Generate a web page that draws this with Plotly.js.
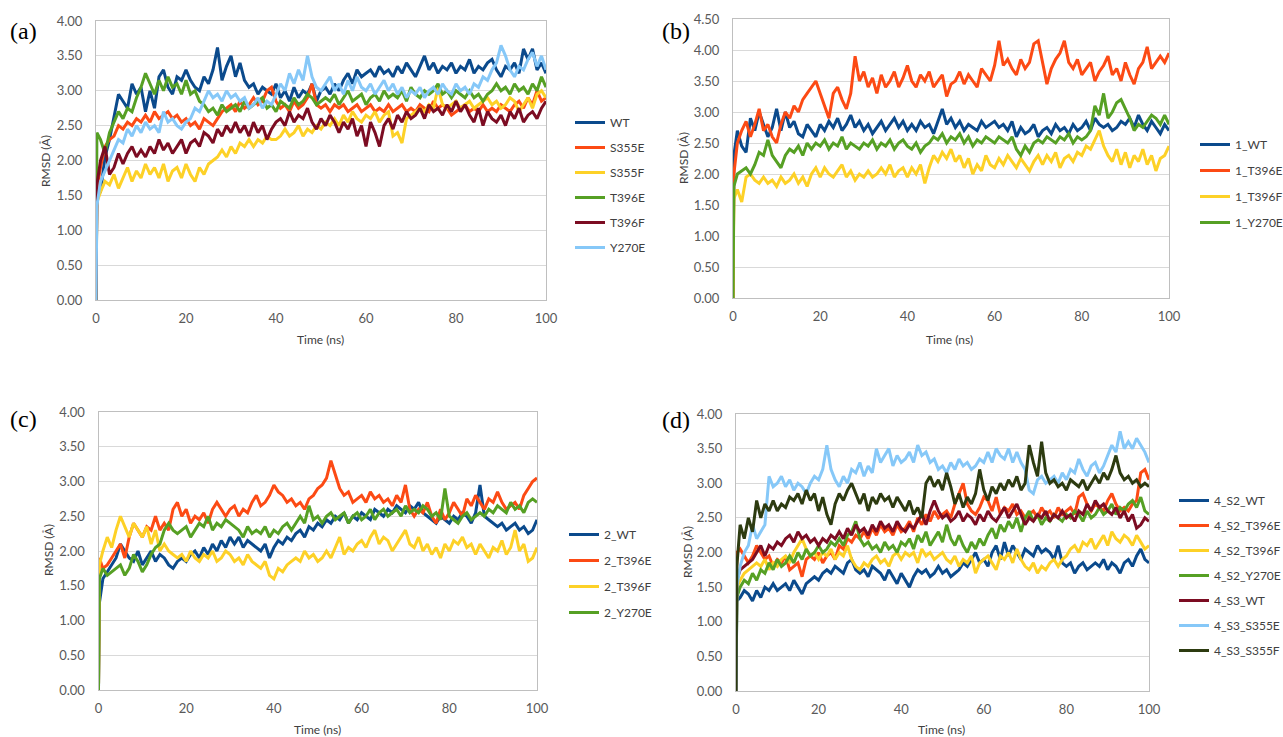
<!DOCTYPE html>
<html>
<head>
<meta charset="utf-8">
<script src="https://cdn.plot.ly/plotly-3.0.1.min.js"></script>
<style>html,body{margin:0;padding:0;background:#fff;}#chart{width:1283px;height:737px;}</style>
</head>
<body>
<div id="chart"></div>
<script>
const time = [0,0.2,1,2,3,4,5,6,7,8,9,10,11,12,13,14,15,16,17,18,19,20,21,22,23,24,25,26,27,28,29,30,31,32,33,34,35,36,37,38,39,40,41,42,43,44,45,46,47,48,49,50,51,52,53,54,55,56,57,58,59,60,61,62,63,64,65,66,67,68,69,70,71,72,73,74,75,76,77,78,79,80,81,82,83,84,85,86,87,88,89,90,91,92,93,94,95,96,97,98,99,100];
const xTicks = [0,20,40,60,80,100];
const yTicks4 = [0,0.5,1,1.5,2,2.5,3,3.5,4];
const yTicks45 = [0,0.5,1,1.5,2,2.5,3,3.5,4,4.5];

// ---- Panel (a)
const a_names = ["WT","S355E","S355F","T396E","T396F","Y270E"];
const a_WT = [0,1.5,
1.55,2.05,2.3,2.6,2.95,2.85,2.75,3.1,2.95,3.05,
2.7,3.0,2.75,3.2,3.3,3.05,2.95,3.2,3.15,3.3,
3.15,3.05,3.0,3.2,3.1,3.3,3.62,3.15,3.35,3.5,
3.2,3.4,3.15,3.05,3.1,2.95,3.05,3.0,2.95,3.1,
2.9,3.0,2.85,3.05,2.9,3.0,2.95,3.1,2.85,3.0,
3.05,2.95,3.1,3.0,3.15,3.25,3.1,3.3,3.2,3.25,
3.3,3.2,3.35,3.25,3.3,3.2,3.35,3.25,3.4,3.3,
3.2,3.35,3.5,3.3,3.4,3.25,3.35,3.3,3.4,3.25,
3.35,3.3,3.45,3.25,3.35,3.3,3.4,3.45,3.3,3.2,
3.35,3.3,3.4,3.25,3.6,3.45,3.6,3.3,3.4,3.25];
const a_S355E = [0,1.6,
1.9,2.2,2.3,2.35,2.5,2.45,2.55,2.5,2.6,2.55,
2.65,2.55,2.7,2.6,2.65,2.7,2.6,2.65,2.55,2.6,
2.5,2.55,2.45,2.6,2.55,2.5,2.6,2.7,2.75,2.8,
2.7,2.85,2.75,2.8,2.9,2.8,2.85,3.0,3.05,2.85,
2.75,2.8,2.7,2.85,2.75,2.8,2.9,3.1,2.8,2.75,
2.8,2.7,2.8,2.75,2.8,2.7,2.75,2.8,2.7,2.75,
2.8,2.7,2.75,2.7,2.8,2.7,2.75,2.8,2.7,2.75,
2.7,2.8,2.75,2.7,2.85,2.75,2.8,2.75,2.65,2.7,
2.75,2.8,2.7,2.75,2.7,2.8,2.7,2.75,2.7,2.8,
2.75,2.7,2.8,2.85,2.75,2.9,2.8,3.0,2.85,2.9];
const a_S355F = [0,1.4,
1.55,1.7,1.65,1.8,1.6,1.75,1.9,1.7,1.85,1.75,
1.95,1.8,1.9,1.75,1.95,1.7,1.85,1.9,1.75,1.95,
1.8,1.7,1.9,1.8,1.95,2.0,2.05,2.15,2.05,2.2,
2.1,2.25,2.2,2.3,2.2,2.3,2.25,2.35,2.3,2.3,
2.35,2.45,2.35,2.4,2.5,2.35,2.45,2.4,2.5,2.45,
2.55,2.5,2.6,2.5,2.65,2.55,2.7,2.6,2.55,2.65,
2.6,2.7,2.55,2.65,2.7,2.35,2.4,2.25,2.6,2.65,
2.7,2.75,2.7,2.8,2.75,3.05,2.8,2.75,2.8,2.85,
2.75,2.8,2.85,2.75,2.8,2.85,2.9,2.8,2.85,2.75,
2.8,2.9,2.85,2.7,2.8,2.9,2.75,2.95,3.0,2.9];
const a_T396E = [0,2.4,
2.3,2.1,2.4,2.55,2.7,2.6,2.75,2.7,2.9,3.05,
3.25,3.1,2.95,3.15,3.0,3.2,3.05,3.1,2.95,3.15,
2.95,3.0,2.85,2.8,2.7,2.75,2.65,2.8,2.7,2.75,
2.8,2.7,2.85,2.75,2.8,2.85,2.9,2.75,2.8,2.7,
2.85,2.8,2.75,2.9,2.8,2.85,2.95,2.9,2.8,2.85,
2.9,2.85,2.95,2.8,2.9,3.0,2.85,2.9,2.95,2.8,
2.9,2.95,2.85,3.0,2.9,2.95,2.9,3.0,2.85,3.05,
2.95,2.9,3.0,2.95,3.0,3.1,2.95,3.0,2.9,3.0,
2.95,2.9,3.0,2.9,2.95,2.85,2.95,3.0,3.1,3.0,
3.05,2.95,3.1,3.0,3.05,2.95,3.1,3.0,3.2,3.05];
const a_T396F = [0,1.65,
2.0,2.2,1.8,1.9,2.1,1.95,2.1,2.2,2.05,2.15,
2.05,2.2,2.1,2.3,2.15,2.25,2.1,2.2,2.3,2.1,
2.25,2.3,2.2,2.4,2.35,2.25,2.45,2.35,2.5,2.4,
2.55,2.4,2.5,2.35,2.55,2.4,2.5,2.3,2.45,2.55,
2.6,2.5,2.7,2.55,2.65,2.6,2.75,2.55,2.45,2.6,
2.5,2.65,2.55,2.4,2.55,2.45,2.6,2.35,2.5,2.2,
2.55,2.4,2.2,2.5,2.6,2.45,2.65,2.55,2.7,2.6,
2.65,2.75,2.6,2.8,2.7,2.75,2.65,2.8,2.7,2.85,
2.7,2.8,2.65,2.55,2.75,2.5,2.7,2.6,2.55,2.65,
2.5,2.7,2.6,2.75,2.55,2.65,2.7,2.6,2.75,2.85];
const a_Y270E = [0,1.35,
1.7,1.85,2.0,2.15,2.3,2.25,2.45,2.35,2.5,2.4,
2.55,2.45,2.5,2.4,2.7,2.55,2.6,2.5,2.45,2.55,
2.6,2.75,2.7,2.85,3.0,2.9,2.95,2.85,3.0,2.9,
2.95,2.85,2.9,2.75,2.8,2.9,2.75,2.85,2.8,2.95,
3.1,3.0,3.25,3.1,3.3,3.15,3.5,3.2,3.05,3.0,
3.1,3.2,3.0,3.1,2.95,3.15,3.0,3.2,3.05,3.0,
3.1,2.95,3.05,3.15,3.0,3.1,2.95,3.05,2.9,3.0,
2.95,3.05,2.9,3.0,3.05,2.95,3.1,3.0,2.95,3.1,
3.0,3.05,2.95,3.1,3.05,3.2,3.15,3.3,3.4,3.65,
3.5,3.3,3.2,3.35,3.3,3.45,3.55,3.35,3.5,3.3];

// ---- Panel (b)
const b_names = ["1_WT","1_T396E","1_T396F","1_Y270E"];
const b_WT = [0,2.3,
2.7,2.45,2.35,2.9,2.7,3.0,2.8,2.6,2.75,3.05,
2.7,3.0,2.75,2.85,2.65,2.6,2.8,2.7,2.6,2.8,
2.7,2.85,2.75,2.9,2.7,2.8,2.95,2.75,2.85,2.7,
2.8,2.65,2.75,2.85,2.7,2.8,2.9,2.75,2.85,2.7,
2.8,2.7,2.85,2.75,2.8,2.65,2.85,3.05,2.8,2.9,
2.75,2.85,2.7,2.8,2.75,2.7,2.85,2.75,2.8,2.85,
2.75,2.8,2.7,2.85,2.6,2.75,2.65,2.7,2.8,2.6,
2.7,2.75,2.65,2.8,2.7,2.75,2.65,2.8,2.7,2.75,
2.85,2.7,2.9,2.8,2.75,2.8,2.7,2.75,2.85,2.8,
2.9,2.75,2.95,2.8,2.7,2.85,2.75,2.65,2.8,2.7];
const b_T396E = [0,2.0,
2.5,2.7,2.85,2.6,2.8,3.05,2.7,2.8,2.6,2.5,
2.8,3.0,2.9,3.1,3.0,3.2,3.3,3.4,3.5,3.3,
3.1,2.9,3.3,3.4,3.2,3.05,3.3,3.9,3.5,3.65,
3.4,3.55,3.3,3.6,3.4,3.5,3.65,3.4,3.55,3.75,
3.5,3.4,3.6,3.5,3.65,3.4,3.5,3.6,3.25,3.45,
3.5,3.65,3.45,3.6,3.5,3.4,3.7,3.6,3.5,3.75,
4.15,3.75,3.85,3.7,3.6,3.85,3.7,3.8,4.1,4.15,
3.8,3.45,3.7,3.85,3.95,4.15,3.8,3.7,3.85,3.6,
3.7,3.8,3.5,3.65,3.75,3.9,3.6,3.7,3.5,3.8,
3.6,3.45,3.7,3.8,4.05,3.7,3.8,3.9,3.8,3.95];
const b_T396F = [0,1.6,
1.75,1.55,1.95,2.0,1.9,1.85,1.95,1.85,1.9,1.8,
1.95,1.85,1.9,2.0,1.85,1.95,1.8,2.0,2.1,1.95,
2.1,2.0,1.95,2.05,2.15,1.95,2.05,1.9,2.0,1.95,
2.05,1.95,2.0,2.1,2.0,2.15,1.95,2.05,2.1,1.95,
2.1,2.0,2.15,1.85,2.1,2.3,2.2,2.35,2.25,2.4,
2.2,2.3,2.1,2.25,2.0,2.15,2.05,2.3,2.15,2.1,
2.25,2.15,2.3,2.2,2.1,2.25,2.15,2.05,2.2,2.3,
2.15,2.3,2.2,2.35,2.1,2.25,2.3,2.2,2.35,2.3,
2.45,2.4,2.55,2.7,2.45,2.3,2.2,2.4,2.15,2.35,
2.1,2.3,2.2,2.4,2.15,2.3,2.05,2.25,2.3,2.45];
const b_Y270E = [0,1.8,
2.0,2.05,2.1,2.0,2.15,2.35,2.3,2.55,2.3,2.2,
2.1,2.3,2.4,2.35,2.45,2.3,2.5,2.4,2.5,2.45,
2.55,2.4,2.5,2.45,2.6,2.4,2.5,2.45,2.4,2.5,
2.45,2.55,2.4,2.5,2.45,2.55,2.4,2.5,2.55,2.45,
2.4,2.5,2.35,2.45,2.5,2.6,2.55,2.65,2.5,2.6,
2.55,2.65,2.5,2.6,2.45,2.55,2.5,2.6,2.55,2.5,
2.6,2.55,2.5,2.6,2.4,2.3,2.45,2.35,2.5,2.55,
2.5,2.6,2.55,2.5,2.6,2.55,2.65,2.5,2.6,2.55,
2.6,2.7,3.1,2.95,3.3,2.9,3.0,3.15,3.2,3.05,
2.9,2.7,2.8,2.75,2.85,2.95,2.9,2.8,2.95,2.8];

// ---- Panel (c)
const c_names = ["2_WT","2_T396E","2_T396F","2_Y270E"];
const c_WT = [0,1.25,
1.6,1.7,1.8,1.9,2.1,2.0,1.9,1.85,2.0,1.8,
1.9,2.0,1.85,1.95,1.9,1.8,1.75,1.85,1.9,1.85,
1.95,2.0,1.9,2.05,1.95,2.1,2.0,2.15,2.05,2.2,
2.1,2.2,2.05,2.15,2.1,2.05,2.0,2.1,1.9,2.05,
2.15,2.1,2.2,2.15,2.25,2.3,2.2,2.35,2.3,2.4,
2.35,2.45,2.4,2.5,2.45,2.55,2.4,2.5,2.45,2.55,
2.5,2.45,2.6,2.55,2.5,2.6,2.55,2.65,2.6,2.55,
2.65,2.6,2.7,2.55,2.5,2.45,2.4,2.5,2.45,2.4,
2.5,2.45,2.55,2.5,2.4,2.55,2.95,2.5,2.45,2.4,
2.35,2.4,2.3,2.35,2.4,2.3,2.35,2.25,2.3,2.45];
const c_T396E = [0,1.9,
1.75,1.8,1.9,2.0,2.1,1.9,2.2,2.4,2.3,2.2,
2.35,2.3,2.5,2.3,2.4,2.3,2.6,2.7,2.5,2.6,
2.4,2.5,2.45,2.55,2.4,2.6,2.7,2.6,2.5,2.6,
2.65,2.5,2.6,2.55,2.7,2.8,2.65,2.7,2.8,2.95,
2.85,2.8,2.7,2.75,2.65,2.7,2.6,2.75,2.8,2.9,
2.95,3.05,3.3,3.1,2.9,2.8,2.85,2.7,2.75,2.8,
2.7,2.85,2.75,2.8,2.7,2.75,2.65,2.8,2.7,2.95,
2.6,2.5,2.6,2.55,2.7,2.5,2.4,2.6,2.45,2.55,
2.7,2.6,2.5,2.75,2.65,2.8,2.7,2.6,2.75,2.7,
2.85,2.7,2.6,2.65,2.7,2.6,2.8,2.9,3.0,3.05];
const c_T396F = [0,1.8,
2.0,2.2,2.05,2.3,2.5,2.35,2.2,2.4,2.3,2.2,
2.35,2.1,2.3,2.0,2.1,2.0,1.95,1.9,1.95,1.85,
2.0,1.9,1.85,1.95,1.9,2.0,1.85,1.9,2.0,1.95,
1.85,1.9,1.8,1.95,1.85,1.8,1.75,1.85,1.65,1.6,
1.75,1.7,1.8,1.85,1.9,1.85,2.0,1.9,1.95,1.85,
1.9,2.0,1.9,2.05,2.2,1.95,2.05,2.0,2.1,2.15,
2.05,2.2,2.3,2.1,2.2,2.15,2.0,2.1,2.2,2.3,
2.1,2.05,2.2,2.0,2.1,1.95,2.05,1.9,2.1,2.0,
2.15,2.1,2.2,2.05,2.1,1.95,2.1,2.0,1.9,2.05,
2.0,2.15,1.95,2.05,2.3,2.0,2.1,1.85,1.9,2.05];
const c_Y270E = [0,1.6,
1.75,1.65,1.7,1.75,1.8,1.65,1.75,1.95,1.85,1.7,
1.8,1.95,2.05,2.1,2.3,2.4,2.3,2.25,2.3,2.35,
2.2,2.3,2.4,2.35,2.5,2.3,2.4,2.35,2.45,2.4,
2.35,2.3,2.2,2.35,2.25,2.3,2.25,2.35,2.2,2.3,
2.25,2.35,2.4,2.3,2.4,2.5,2.4,2.65,2.45,2.5,
2.4,2.5,2.55,2.45,2.5,2.55,2.4,2.5,2.55,2.45,
2.5,2.6,2.45,2.55,2.6,2.5,2.55,2.6,2.5,2.65,
2.55,2.6,2.55,2.65,2.6,2.5,2.55,2.45,2.9,2.5,
2.45,2.4,2.5,2.55,2.45,2.5,2.55,2.5,2.6,2.55,
2.65,2.6,2.55,2.7,2.6,2.65,2.55,2.7,2.75,2.7];

// ---- Panel (d)
const d_names = ["4_S2_WT","4_S2_T396E","4_S2_T396F","4_S2_Y270E","4_S3_WT","4_S3_S355E","4_S3_S355F"];
const d_S2_WT = [0,1.3,
1.35,1.45,1.4,1.3,1.45,1.35,1.5,1.45,1.55,1.45,
1.5,1.55,1.45,1.6,1.5,1.4,1.55,1.6,1.65,1.6,
1.7,1.75,1.7,1.8,1.75,1.7,1.85,1.9,1.75,1.7,
1.75,1.65,1.8,1.75,1.7,1.6,1.75,1.65,1.55,1.7,
1.6,1.5,1.65,1.75,1.7,1.75,1.65,1.7,1.8,1.7,
1.75,1.65,1.7,1.75,1.85,1.8,1.9,2.0,1.85,1.9,
1.8,2.0,2.1,1.9,2.15,1.95,2.1,2.0,1.9,2.05,
2.0,1.95,2.1,2.0,2.05,2.0,1.9,2.1,1.85,1.8,
1.85,1.7,1.8,1.85,1.75,1.8,1.85,1.8,1.9,1.75,
1.85,1.8,1.7,1.85,1.9,1.8,1.95,2.05,1.9,1.85];
const d_S2_T396E = [0,2.0,
2.05,1.95,1.85,1.95,2.1,2.0,1.9,1.95,1.8,1.9,
1.85,1.95,1.75,1.8,1.85,1.65,1.9,1.95,1.9,2.0,
1.85,1.95,2.0,1.9,2.1,2.05,2.2,2.15,2.25,2.2,
2.3,2.2,2.35,2.25,2.4,2.3,2.35,2.25,2.4,2.3,
2.35,2.45,2.3,2.5,2.4,2.55,2.45,2.6,2.5,2.55,
2.6,2.5,2.7,2.85,3.0,2.7,2.6,2.55,2.65,2.8,
2.75,2.6,2.8,2.55,2.65,2.6,2.7,2.55,2.6,2.5,
2.55,2.6,2.5,2.65,2.55,2.6,2.5,2.65,2.55,2.6,
2.65,2.55,2.8,2.85,2.7,2.6,2.7,2.65,2.6,2.75,
2.85,2.7,2.6,2.65,2.6,2.7,2.75,3.15,3.2,3.05];
const d_S2_T396F = [0,1.5,
1.6,1.7,1.75,1.8,1.85,1.8,1.9,1.75,1.85,1.8,
1.9,1.95,1.85,2.0,2.1,2.2,2.05,1.95,2.0,1.9,
2.0,1.95,2.05,1.9,2.0,1.95,2.1,1.9,1.8,1.75,
1.85,1.8,1.9,1.95,1.85,1.9,1.8,1.95,2.0,1.9,
2.0,1.95,2.0,1.85,2.05,1.95,2.0,1.9,1.95,2.0,
1.9,1.85,1.95,1.8,1.9,1.85,1.95,1.7,1.85,1.9,
1.95,1.85,1.75,1.95,1.9,2.0,1.85,2.05,1.9,1.8,
1.75,1.85,1.7,1.8,1.75,1.85,1.9,1.8,1.9,1.95,
2.05,2.1,2.0,2.15,2.1,2.2,2.05,2.15,2.25,2.1,
2.3,2.2,2.15,2.25,2.2,2.1,2.25,2.15,2.05,2.1];
const d_S2_Y270E = [0,1.35,
1.5,1.6,1.55,1.7,1.6,1.75,1.7,1.85,1.75,1.9,
1.8,1.85,1.95,1.85,2.0,1.9,2.05,1.95,2.0,2.1,
2.0,2.05,2.15,2.1,2.2,2.1,2.25,2.3,2.45,2.2,
2.1,2.15,2.05,2.1,2.0,2.15,2.05,2.1,2.0,2.15,
2.1,2.2,2.05,2.25,2.15,2.3,2.1,2.2,2.3,2.15,
2.4,2.2,2.1,2.25,2.1,2.0,2.15,2.05,2.2,2.1,
2.25,2.35,2.2,2.4,2.3,2.45,2.35,2.5,2.3,2.5,
2.6,2.45,2.55,2.4,2.5,2.45,2.55,2.5,2.45,2.55,
2.5,2.6,2.55,2.45,2.6,2.5,2.55,2.65,2.55,2.6,
2.7,2.55,2.65,2.6,2.7,2.75,2.65,2.8,2.6,2.55];
const d_S3_WT = [0,1.6,
1.75,1.8,1.85,1.9,2.0,2.1,1.95,2.1,2.05,2.15,
2.1,2.2,2.25,2.15,2.3,2.2,2.25,2.15,2.2,2.1,
2.2,2.15,2.25,2.2,2.3,2.2,2.35,2.25,2.4,2.3,
2.35,2.25,2.4,2.3,2.45,2.35,2.4,2.3,2.45,2.35,
2.3,2.4,2.35,2.45,2.55,2.4,2.6,2.75,2.6,2.5,
2.55,2.45,2.5,2.6,2.45,2.55,2.5,2.4,2.55,2.45,
2.6,2.5,2.45,2.55,2.65,2.5,2.6,2.7,2.55,2.4,
2.5,2.45,2.55,2.5,2.6,2.45,2.55,2.5,2.6,2.5,
2.55,2.45,2.6,2.55,2.7,2.6,2.75,2.65,2.7,2.6,
2.55,2.65,2.5,2.6,2.45,2.55,2.35,2.4,2.5,2.45];
const d_S3_S355E = [0,1.5,
1.8,2.0,2.1,2.4,2.2,2.3,2.4,3.1,2.95,3.0,
3.1,2.95,3.05,2.9,3.0,2.95,2.85,3.0,3.1,3.05,
3.2,3.55,3.2,3.05,2.95,3.1,3.0,3.2,3.15,3.3,
3.1,3.25,3.15,3.5,3.3,3.4,3.5,3.25,3.4,3.3,
3.35,3.45,3.3,3.55,3.4,3.45,3.3,3.35,3.2,3.25,
3.15,3.3,3.2,3.35,3.25,3.3,3.2,3.25,3.35,3.3,
3.45,3.3,3.5,3.4,3.35,3.5,3.3,3.45,3.3,3.2,
2.9,2.85,3.05,3.1,3.0,3.05,3.1,3.0,3.15,3.05,
3.2,3.15,3.35,3.2,3.1,3.25,3.3,3.15,3.25,3.4,
3.55,3.45,3.75,3.5,3.6,3.5,3.65,3.55,3.45,3.3];
const d_S3_S355F = [0,1.8,
2.4,2.2,2.5,2.3,2.75,2.5,2.7,2.6,2.75,2.6,
2.7,2.65,2.8,2.75,2.85,2.7,2.9,2.75,2.85,2.6,
2.8,2.55,2.4,2.7,2.85,2.75,2.9,3.0,2.85,2.7,
2.85,2.6,2.8,2.7,2.85,2.75,2.8,2.65,2.8,2.7,
2.6,2.75,2.55,2.65,2.5,3.0,3.1,2.95,3.05,2.9,
3.15,2.95,2.7,2.85,2.65,2.8,2.7,2.85,3.2,2.9,
2.75,2.95,2.85,3.0,2.9,3.05,2.95,3.1,2.9,3.0,
3.55,3.3,3.1,3.6,3.15,3.0,3.05,2.95,3.0,2.9,
3.05,3.0,2.95,3.05,2.9,3.0,3.1,3.0,3.15,3.05,
3.2,3.4,3.15,3.05,3.1,3.0,3.05,2.95,3.0,2.95];

// ---- colours
const C_BLUE = '#0b4a8c', C_ORANGE = '#fc4a14', C_YELLOW = '#fdd127', C_GREEN = '#56a024',
      C_MAROON = '#7c0c22', C_LBLUE = '#86c8f8', C_OLIVE = '#2d3b10';

const traces = [];
function addSeries(xa, ya, leg, name, ys, color) {
  traces.push({x: time, y: ys, type: 'scatter', mode: 'lines', name: name,
    xaxis: xa, yaxis: ya, legend: leg, legendgroup: leg + '_' + name,
    line: {color: color, width: 3}});
}
const aSeries = [a_WT, a_S355E, a_S355F, a_T396E, a_T396F, a_Y270E];
const aCols = [C_BLUE, C_ORANGE, C_YELLOW, C_GREEN, C_MAROON, C_LBLUE];
aSeries.forEach((s, i) => addSeries('x', 'y', 'legend', a_names[i], s, aCols[i]));
const bSeries = [b_WT, b_T396E, b_T396F, b_Y270E];
const bcCols = [C_BLUE, C_ORANGE, C_YELLOW, C_GREEN];
bSeries.forEach((s, i) => addSeries('x2', 'y2', 'legend2', b_names[i], s, bcCols[i]));
const cSeries = [c_WT, c_T396E, c_T396F, c_Y270E];
cSeries.forEach((s, i) => addSeries('x3', 'y3', 'legend3', c_names[i], s, bcCols[i]));
const dSeries = [d_S2_WT, d_S2_T396E, d_S2_T396F, d_S2_Y270E, d_S3_WT, d_S3_S355E, d_S3_S355F];
const dCols = [C_BLUE, C_ORANGE, C_YELLOW, C_GREEN, C_MAROON, C_LBLUE, C_OLIVE];
dSeries.forEach((s, i) => addSeries('x4', 'y4', 'legend4', d_names[i], s, dCols[i]));

const W = 1283, H = 737;
const px = v => v / W, py = v => 1 - v / H;
const tickFont = {family: 'Lato, "Open Sans", sans-serif', size: 13, color: '#595959'};

function xAxis(l, r, anchor) {
  return {domain: [px(l), px(r)], anchor: anchor, range: [0, 100], tickvals: xTicks,
    showgrid: false, zeroline: false, showline: true, mirror: true, linecolor: '#bfbfbf', linewidth: 1,
    ticks: '', tickfont: tickFont, ticklabelstandoff: 6, fixedrange: true, automargin: false};
}
function yAxis(t, b, anchor, ymax, ticks) {
  return {domain: [py(b), py(t)], anchor: anchor, range: [0, ymax], tickvals: ticks, tickformat: '.2f',
    showgrid: true, gridcolor: '#d9d9d9', gridwidth: 1, zeroline: false, showline: true, mirror: true,
    linecolor: '#bfbfbf', linewidth: 1, ticks: '', tickfont: tickFont, ticklabelstandoff: 10, fixedrange: true,
    automargin: false};
}
const legFont = {family: 'Lato, "Open Sans", sans-serif', size: 12, color: '#404040'};
function leg(x, y, gap) {
  return {x: px(x), y: py(y), xanchor: 'left', yanchor: 'top', font: legFont, bgcolor: 'rgba(0,0,0,0)',
    tracegroupgap: gap, traceorder: 'grouped', itemwidth: 30};
}

const annFontTitle = {family: 'Lato, "Open Sans", sans-serif', size: 12, color: '#404040'};
const annFontPanel = {family: '"Liberation Serif", "DejaVu Serif", serif', size: 24, color: '#000'};
const annotations = [];
[['(a)', 8, 31], ['(b)', 660, 31], ['(c)', 8, 419], ['(d)', 660, 420]].forEach(p => annotations.push(
  {text: p[0], xref: 'paper', yref: 'paper', x: px(p[1]), y: py(p[2]), xanchor: 'left', yanchor: 'middle',
   showarrow: false, font: annFontPanel}));
[[45, 161], [683, 158], [48, 550], [687, 552]].forEach(p => annotations.push(
  {text: 'RMSD (Å)', xref: 'paper', yref: 'paper', x: px(p[0]), y: py(p[1]), xanchor: 'center', yanchor: 'middle',
   textangle: -90, showarrow: false, font: annFontTitle}));
[[320, 339], [949, 339], [317, 729], [942, 729]].forEach(p => annotations.push(
  {text: 'Time (ns)', xref: 'paper', yref: 'paper', x: px(p[0]), y: py(p[1]), xanchor: 'center', yanchor: 'middle',
   showarrow: false, font: annFontTitle}));

const layout = {
  width: W, height: H, margin: {l: 0, r: 0, t: 0, b: 0, autoexpand: false}, paper_bgcolor: '#fff', plot_bgcolor: '#fff',
  showlegend: true,
  xaxis: xAxis(96, 546, 'y'), yaxis: yAxis(21, 300, 'x', 4, yTicks4),
  xaxis2: xAxis(733, 1169, 'y2'), yaxis2: yAxis(19, 298, 'x2', 4.5, yTicks45),
  xaxis3: xAxis(98.5, 537, 'y3'), yaxis3: yAxis(412, 690, 'x3', 4, yTicks4),
  xaxis4: xAxis(736, 1149, 'y4'), yaxis4: yAxis(414, 691, 'x4', 4, yTicks4),
  legend: leg(570, 108, 6), legend2: leg(1195, 130, 7), legend3: leg(564, 520, 7), legend4: leg(1174, 486, 6),
  annotations: annotations
};
Plotly.newPlot('chart', traces, layout, {displayModeBar: false, staticPlot: true});
</script>
</body>
</html>
